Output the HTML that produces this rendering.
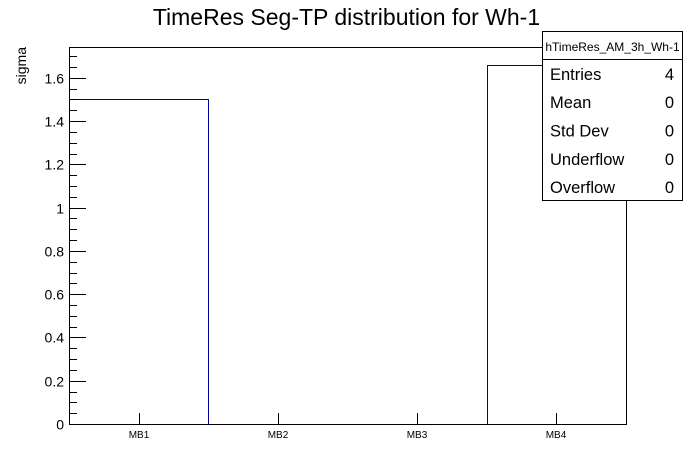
<!DOCTYPE html>
<html>
<head>
<meta charset="utf-8">
<style>
html,body{margin:0;padding:0;background:#fff;}
svg{display:block;}
text{font-family:"Liberation Sans",Arial,sans-serif;fill:#000;}
</style>
</head>
<body>
<svg width="696" height="472" viewBox="0 0 696 472" xmlns="http://www.w3.org/2000/svg">
<rect x="0" y="0" width="696" height="472" fill="#fff"/>
<!-- title -->
<text x="346.5" y="25" font-size="23" text-anchor="middle">TimeRes Seg-TP distribution for Wh-1</text>
<!-- histogram -->
<path d="M69.5,424.5 V99.5 H208.5 V424.5 H487.5 V65.5 H626.5 V424.5" fill="none" stroke="#00009a" stroke-width="1"/>
<!-- frame -->
<rect x="69.5" y="47.5" width="557" height="377" fill="none" stroke="#000" stroke-width="1"/>
<!-- y ticks -->
<path stroke="#000" stroke-width="1" fill="none" d="
M69,424.5H86 M69,413.5H77 M69,402.5H77 M69,392.5H77
M69,381.5H86 M69,370.5H77 M69,359.5H77 M69,348.5H77
M69,337.5H86 M69,327.5H77 M69,316.5H77 M69,305.5H77
M69,294.5H86 M69,283.5H77 M69,273.5H77 M69,262.5H77
M69,251.5H86 M69,240.5H77 M69,229.5H77 M69,218.5H77
M69,208.5H86 M69,197.5H77 M69,186.5H77 M69,175.5H77
M69,164.5H86 M69,154.5H77 M69,143.5H77 M69,132.5H77
M69,121.5H86 M69,110.5H77 M69,99.5H77 M69,89.5H77
M69,78.5H86 M69,67.5H77 M69,56.5H77
"/>
<!-- x ticks -->
<path stroke="#000" stroke-width="1" fill="none" d="M139.5,424V413 M278.5,424V413 M417.5,424V413 M556.5,424V413"/>
<!-- y labels -->
<g font-size="14" text-anchor="end">
<text x="64" y="429.5">0</text>
<text x="64" y="386.5">0.2</text>
<text x="64" y="342.5">0.4</text>
<text x="64" y="299.5">0.6</text>
<text x="64" y="256.5">0.8</text>
<text x="64" y="213.5">1</text>
<text x="64" y="169.5">1.2</text>
<text x="64" y="126.5">1.4</text>
<text x="64" y="83.5">1.6</text>
</g>
<!-- x labels -->
<g font-size="10" text-anchor="middle">
<text x="139" y="438">MB1</text>
<text x="278" y="438">MB2</text>
<text x="417" y="438">MB3</text>
<text x="556" y="438">MB4</text>
</g>
<!-- y axis title -->
<text transform="translate(26,47) rotate(-90)" font-size="14" text-anchor="end">sigma</text>
<!-- stats box -->
<rect x="542.5" y="31.5" width="140" height="169" fill="#fff" stroke="#000" stroke-width="1"/>
<line x1="542" y1="59.5" x2="683" y2="59.5" stroke="#000" stroke-width="1"/>
<text x="612.5" y="51" font-size="12" text-anchor="middle">hTimeRes_AM_3h_Wh-1</text>
<g font-size="16.5">
<text x="550" y="80">Entries</text>
<text x="550" y="108">Mean</text>
<text x="550" y="136.5">Std Dev</text>
<text x="550" y="165">Underflow</text>
<text x="550" y="193">Overflow</text>
</g>
<g font-size="16.5" text-anchor="end">
<text x="674" y="80">4</text>
<text x="674" y="108">0</text>
<text x="674" y="136.5">0</text>
<text x="674" y="165">0</text>
<text x="674" y="193">0</text>
</g>
</svg>
</body>
</html>
